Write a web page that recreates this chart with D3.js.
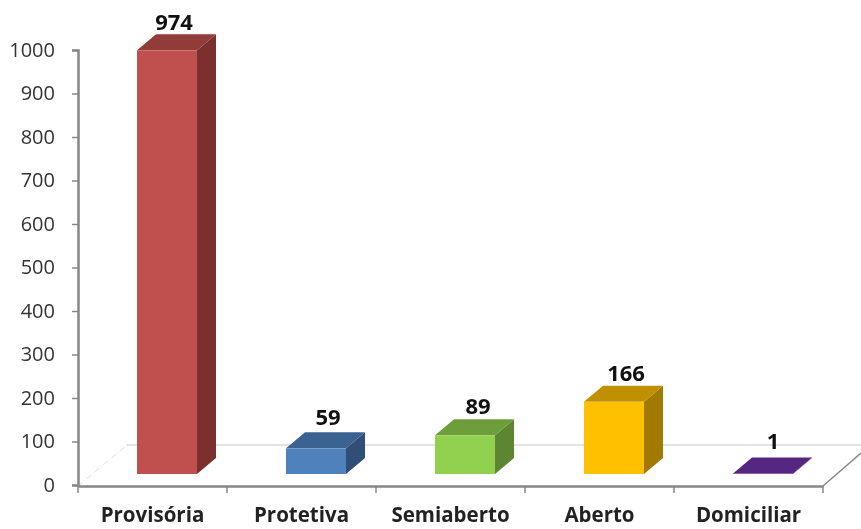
<!DOCTYPE html>
<html>
<head>
<meta charset="utf-8">
<script src="https://cdn.jsdelivr.net/npm/d3@7"></script>
<style>
html,body{margin:0;padding:0;background:#fff;}
svg{display:block;filter:blur(0.35px);}
</style>
</head>
<body>
<svg id="chart" width="861" height="529"></svg>
<script>
const categories = ["Provisória","Protetiva","Semiaberto","Aberto","Domiciliar"];
const values = [974,59,89,166,1];
const yTicks = [0,100,200,300,400,500,600,700,800,900,1000];
const frontColors = ["#C0504D","#4F81BD","#92D050","#FFC000","#5A2781"];
const topColors = ["#923C3A","#3C6291","#6E9E3C","#C09000","#552780"];
const sideColors = ["#7B302E","#304F77","#5D8633","#A17A00","#48206C"];
// hand placed data labels, the original chart does not centre them evenly
const labelShift = [37,42,43,42,40];
const labelLift = [4,7,5,5,9];

const font = "'Open Sans', sans-serif";
let svg = d3.select("#chart");

let x = d3.scaleBand().domain(categories).range([78,823]);
let y = d3.scaleLinear().domain([0,1000]).range([485,50]);

let barW = 60, dx = 19, dy = 16;   // bar depth
let floorUp = 11;                  // bars stand a bit behind the axis line
let barLeft = c => x(c) + (x.bandwidth()-barW)/2 + 14.5;
let barBase = y(0) - floorUp;
let barTop = v => y(v) - floorUp;

// floor outline
let floor = svg.append("g");
floor.append("line").attr("x1",127).attr("y1",445).attr("x2",861).attr("y2",445)
    .attr("stroke","#e2e2e2").attr("stroke-width",2);
floor.append("line").attr("x1",78).attr("y1",486).attr("x2",127).attr("y2",445)
    .attr("stroke","#dcdcdc").attr("stroke-width",1).attr("stroke-dasharray","6,2,1,2");
floor.append("line").attr("x1",823).attr("y1",486).attr("x2",861).attr("y2",453)
    .attr("stroke","#868686").attr("stroke-width",1.5);

// axes
let yAxis = svg.append("g").attr("transform","translate(78,0)")
    .call(d3.axisLeft(y).tickValues(yTicks).tickSize(6).tickPadding(17).tickFormat(d3.format("d")));
yAxis.selectAll("text").attr("font-family",font).attr("font-size",20).attr("fill","#333");

let xAxis = svg.append("g").attr("transform","translate(0,486)")
    .call(d3.axisBottom(x).tickSize(0).tickPadding(21));
xAxis.selectAll("text").attr("font-family",font).attr("font-size",20.5)
    .attr("font-weight","bold").attr("fill","#222");
xAxis.selectAll(".xtick").data(d3.range(categories.length+1)).join("line")
    .attr("class","xtick")
    .attr("x1",i=>78+i*x.step()).attr("x2",i=>78+i*x.step())
    .attr("y1",0).attr("y2",7);
xAxis.selectAll(".xtick").attr("stroke","#868686").attr("stroke-width",1.5);
svg.selectAll(".domain").attr("stroke","#868686").attr("stroke-width",2.5);
yAxis.selectAll(".tick line").attr("stroke","#868686").attr("stroke-width",1.5);

// bars
let data = categories.map((c,i)=>({c:c,v:values[i],i:i}));
let bars = svg.append("g").selectAll(".bar").data(data).join("g").attr("class","bar");

bars.append("polygon") // side
    .attr("points",d=>{
        let r = barLeft(d.c)+barW, t = barTop(d.v);
        return [[r,t],[r+dx,t-dy],[r+dx,barBase-dy],[r,barBase]].join(" ");
    })
    .attr("fill",d=>sideColors[d.i]);
bars.append("polygon") // top
    .attr("points",d=>{
        let l = barLeft(d.c), t = barTop(d.v);
        return [[l,t],[l+dx,t-dy],[l+barW+dx,t-dy],[l+barW,t]].join(" ");
    })
    .attr("fill",d=>topColors[d.i]);
bars.append("rect") // front
    .attr("x",d=>barLeft(d.c))
    .attr("y",d=>barTop(d.v))
    .attr("width",barW)
    .attr("height",d=>barBase-barTop(d.v))
    .attr("fill",d=>frontColors[d.i]);

bars.append("text")
    .attr("x",d=>barLeft(d.c)+labelShift[d.i])
    .attr("y",d=>barTop(d.v)-dy-labelLift[d.i])
    .attr("text-anchor","middle")
    .attr("font-family",font)
    .attr("font-size",22)
    .attr("font-weight","bold")
    .attr("fill","#111")
    .text(d=>d.v);
</script>
</body>
</html>
